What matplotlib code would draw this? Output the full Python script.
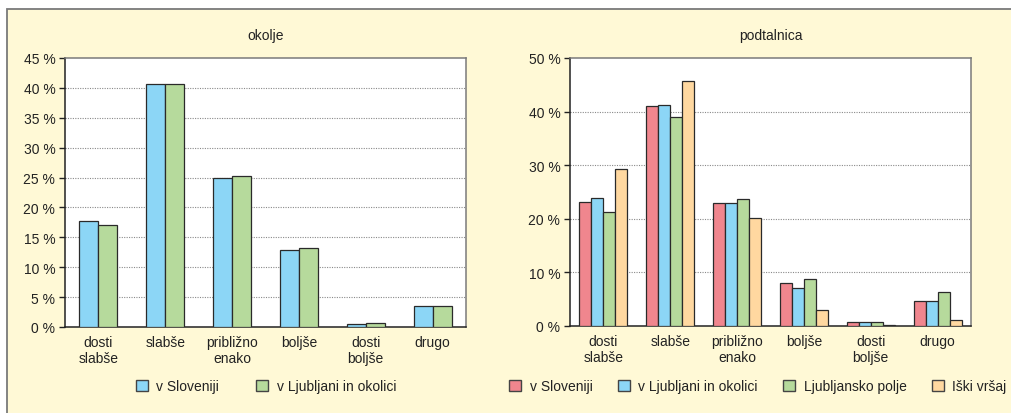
import matplotlib
matplotlib.use("Agg")
import matplotlib.pyplot as plt
import numpy as np
from matplotlib.patches import Rectangle, Patch

plt.rcParams['font.family'] = ['Liberation Sans', 'DejaVu Sans']
plt.rcParams['font.size'] = 10

categories = ["dosti\nslabše", "slabše", "približno\nenako", "boljše", "dosti\nboljše", "drugo"]

# okolje
okolje_slo = [17.7, 40.7, 24.9, 12.9, 0.5, 3.45]
okolje_lj = [17.0, 40.7, 25.2, 13.2, 0.65, 3.45]
okolje_labels = ["v Sloveniji", "v Ljubljani in okolici"]

# podtalnica
podt_slo = [23.1, 41.0, 22.9, 8.0, 0.7, 4.6]
podt_lj = [23.9, 41.3, 22.9, 7.0, 0.7, 4.6]
podt_polje = [21.3, 38.9, 23.7, 8.8, 0.8, 6.4]
podt_vrsaj = [29.3, 45.7, 20.1, 3.0, 0.25, 1.2]
podt_labels = ["v Sloveniji", "v Ljubljani in okolici", "Ljubljansko polje", "Iški vršaj"]

RED = "#F0868E"
BLUE = "#8CD6F6"
GREEN = "#B6DA9C"
ORANGE = "#FFD8A0"
CREAM = "#FFF9D6"
EDGE = "#2a2a2a"

W, H = 1012, 414
fig = plt.figure(figsize=(W / 100, H / 100), dpi=100)
fig.patch.set_facecolor("white")

# framed cream panel behind both charts (open to the right and bottom)
fig.patches.append(Rectangle((7 / W, -0.5), 2.0, (H - 10) / H + 0.5,
                             transform=fig.transFigure, facecolor=CREAM,
                             edgecolor="#7a7a7a", linewidth=1.3, zorder=-5))


def px_axes(x0, y0, x1, y1):
    return fig.add_axes([x0 / W, 1 - y1 / H, (x1 - x0) / W, (y1 - y0) / H])


def style(ax, ymax, step, title):
    ax.set_facecolor("white")
    ax.set_xlim(-0.5, len(categories) - 0.5)
    ax.set_ylim(0, ymax)
    ticks = np.arange(0, ymax + 0.1, step)
    ax.set_yticks(ticks)
    ax.set_yticklabels([f"{int(t)} %" for t in ticks])
    for t in ticks[1:-1]:
        ax.axhline(t, color="#8a8a8a", linewidth=0.8, linestyle=(0, (1, 1.2)), zorder=1)
    ax.set_xticks(range(len(categories)))
    ax.set_xticklabels(categories, linespacing=1.15)
    ax.tick_params(axis="x", length=0, pad=6, colors="#222222")
    ax.tick_params(axis="y", length=4, width=1, direction="out", pad=3, colors="#222222")
    for s in ("left", "bottom"):
        ax.spines[s].set_color("#222222")
        ax.spines[s].set_linewidth(1.1)
    for s in ("top", "right"):
        ax.spines[s].set_color("#7a7a7a")
        ax.spines[s].set_linewidth(1.1)
    ax.set_title(title, pad=14, fontsize=10, color="#222222")


x = np.arange(len(categories))

# left chart
ax1 = px_axes(65, 59, 466, 328)
bw1 = 0.285
for i, (vals, col) in enumerate(zip([okolje_slo, okolje_lj], [BLUE, GREEN])):
    ax1.bar(x + (i - 0.5) * bw1, vals, width=bw1, color=col, edgecolor=EDGE,
            linewidth=0.9, zorder=3)
style(ax1, 45, 5, "okolje")

# right chart
ax2 = px_axes(570, 59, 971, 327)
bw2 = 0.18
for i, (vals, col) in enumerate(zip([podt_slo, podt_lj, podt_polje, podt_vrsaj],
                                    [RED, BLUE, GREEN, ORANGE])):
    ax2.bar(x + (i - 1.5) * bw2, vals, width=bw2, color=col, edgecolor=EDGE,
            linewidth=0.9, zorder=3)
style(ax2, 50, 10, "podtalnica")


def handles(cols):
    return [Patch(facecolor=c, edgecolor="#444444", linewidth=1.0) for c in cols]


leg_kw = dict(frameon=False, handlelength=0.85, handleheight=0.85,
              handletextpad=0.6, fontsize=10, labelcolor="#222222")
fig.legend(handles([BLUE, GREEN]), okolje_labels, loc="center",
           bbox_to_anchor=(266 / W, 1 - 387 / H), ncol=2, columnspacing=2.7, **leg_kw)
fig.legend(handles([RED, BLUE, GREEN, ORANGE]), podt_labels, loc="center",
           bbox_to_anchor=(758 / W, 1 - 387 / H), ncol=4, columnspacing=1.85, **leg_kw)

fig.savefig("out.png", dpi=100, facecolor=fig.get_facecolor())
